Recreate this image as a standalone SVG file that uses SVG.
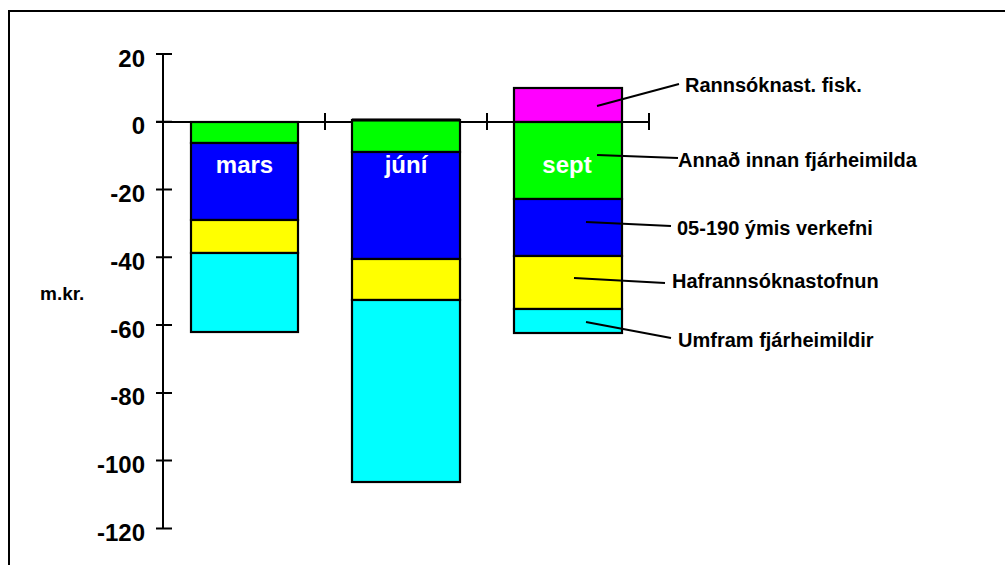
<svg xmlns="http://www.w3.org/2000/svg" width="1005" height="565" viewBox="0 0 1005 565">
<style>
.ax{stroke:#000;stroke-width:2;fill:none}
.seg{stroke:#000;stroke-width:2.2}
.t{font-family:"Liberation Sans",Arial,sans-serif;font-weight:bold;fill:#000}
.num{font-size:24px;text-anchor:end}
.lab{font-size:20px}
.bl{font-size:24px;fill:#fff;text-anchor:middle}
.ld{stroke:#000;stroke-width:2}
</style>
<rect x="0" y="0" width="1005" height="565" fill="#fff"/>
<g id="frame"><path d="M9,565 V11 H1005" class="ax" stroke-width="2.5"/></g>
<g id="axes">
<path class="ax" d="M163,54 V528.4"/>
<path class="ax" d="M156,54 H172 M156,121.8 H172 M156,189.6 H172 M156,257.3 H172 M156,325.1 H172 M156,392.9 H172 M156,460.6 H172 M156,528.4 H172"/>
<path class="ax" d="M156,122 H650 M325,113 V130 M487,113 V130 M649,113 V130"/>
<g class="t num">
<text x="145" y="66.5">20</text>
<text x="145" y="134">0</text>
<text x="145" y="202">-20</text>
<text x="145" y="269.5">-40</text>
<text x="145" y="337.5">-60</text>
<text x="145" y="405">-80</text>
<text x="145" y="473">-100</text>
<text x="145" y="540.5">-120</text>
</g>
<text class="t" x="40" y="300" font-size="19">m.kr.</text>
</g>
<g id="bar-mars">
<rect class="seg" x="191" y="122" width="107" height="21" fill="#00ff00"/>
<rect class="seg" x="191" y="143" width="107" height="77" fill="#0000ff"/>
<rect class="seg" x="191" y="220" width="107" height="33" fill="#ffff00"/>
<rect class="seg" x="191" y="253" width="107" height="79" fill="#00ffff"/>
<text class="t bl" x="244.5" y="172.5">mars</text>
</g>
<g id="bar-juni">
<rect class="seg" x="352" y="120" width="108" height="32" fill="#00ff00"/>
<rect class="seg" x="352" y="152" width="108" height="107" fill="#0000ff"/>
<rect class="seg" x="352" y="259" width="108" height="41" fill="#ffff00"/>
<rect class="seg" x="352" y="300" width="108" height="182" fill="#00ffff"/>
<path d="M352,120 H460" stroke="#000" stroke-width="3"/>
<text class="t bl" x="406" y="172.5">júní</text>
</g>
<g id="bar-sept">
<rect class="seg" x="514" y="88" width="108" height="34" fill="#ff00ff"/>
<rect class="seg" x="514" y="122" width="108" height="77" fill="#00ff00"/>
<rect class="seg" x="514" y="199" width="108" height="57" fill="#0000ff"/>
<rect class="seg" x="514" y="256" width="108" height="53" fill="#ffff00"/>
<rect class="seg" x="514" y="309" width="108" height="24" fill="#00ffff"/>
<text class="t bl" x="567" y="172.5">sept</text>
</g>
<g id="connectors">
<line class="ld" x1="597" y1="106" x2="679" y2="84"/>
<line class="ld" x1="597" y1="155" x2="678" y2="158"/>
<line class="ld" x1="586" y1="222" x2="671" y2="226"/>
<line class="ld" x1="574" y1="278" x2="665" y2="283"/>
<line class="ld" x1="586" y1="322" x2="671" y2="338"/>
</g>
<g id="legend-labels" class="t lab">
<text x="685" y="92">Rannsóknast. fisk.</text>
<text x="678" y="167">Annað innan fjárheimilda</text>
<text x="677" y="235">05-190 ýmis verkefni</text>
<text x="672" y="288">Hafrannsóknastofnun</text>
<text x="678" y="347">Umfram fjárheimildir</text>
</g>
</svg>
